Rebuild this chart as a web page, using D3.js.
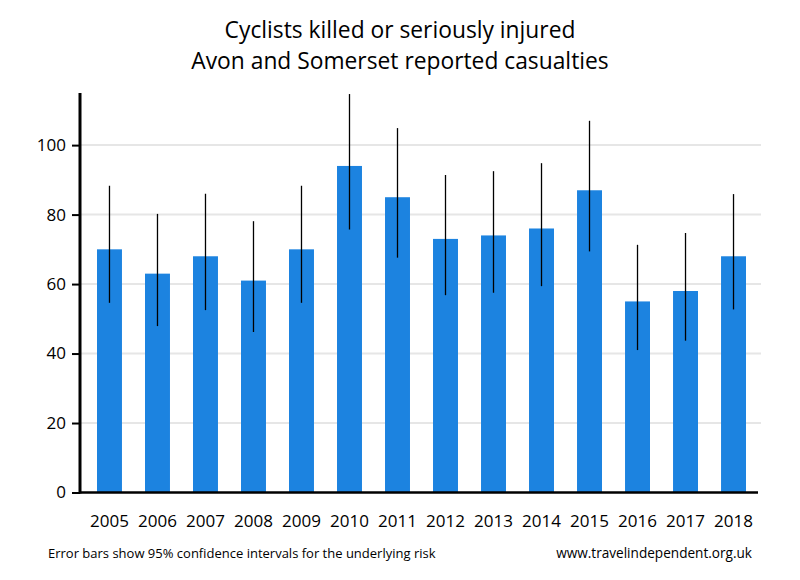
<!DOCTYPE html>
<html><head><meta charset="utf-8">
<script src="https://cdn.jsdelivr.net/npm/d3@7"></script>
<style>body{margin:0;background:#fff}svg{display:block}text{font-family:"Open Sans",sans-serif}</style>
</head><body><svg id="c" width="800" height="580"></svg>
<script>
const years = ["2005","2006","2007","2008","2009","2010","2011","2012","2013","2014","2015","2016","2017","2018"];
const casualties = [70,63,68,61,70,94,85,73,74,76,87,55,58,68];
const ciLow = [54.6,47.9,52.5,46.2,54.6,75.7,67.6,56.8,57.5,59.4,69.4,41.0,43.7,52.7];
const ciHigh = [88.3,80.2,86.0,78.1,88.3,114.7,104.9,91.4,92.5,94.8,107,71.3,74.7,85.9];
const yTicks = [0,20,40,60,80,100];
const titleLines = ["Cyclists killed or seriously injured","Avon and Somerset reported casualties"];

const svg = d3.select("#c");
const pL = 80, pR = 758, pT = 93, pB = 492.5;
const x = d3.scaleBand().domain(years).range([73, 770]).paddingInner(0.48).paddingOuter(0.5);
const y = d3.scaleLinear().domain([0,115]).range([pB, pT]);

// gridlines
svg.append("g").selectAll("line").data(yTicks.filter(d=>d>0)).join("line")
  .attr("x1", pL).attr("x2", 761).attr("y1", d=>y(d)).attr("y2", d=>y(d))
  .attr("stroke", "#e6e6e6").attr("stroke-width", 2);

// bars
svg.append("g").selectAll("rect").data(years).join("rect")
  .attr("x", d=>x(d)).attr("width", x.bandwidth())
  .attr("y", (d,i)=>y(casualties[i])).attr("height", (d,i)=>pB - y(casualties[i]))
  .attr("fill", "#1c83e0");

// error bars
svg.append("g").selectAll("line").data(years).join("line")
  .attr("x1", d=>x(d)+x.bandwidth()/2).attr("x2", d=>x(d)+x.bandwidth()/2)
  .attr("y1", (d,i)=>y(ciLow[i])).attr("y2", (d,i)=>y(ciHigh[i]))
  .attr("stroke", "#000").attr("stroke-width", 1.3);

// y axis
const ya = svg.append("g").attr("transform", `translate(${pL},0)`)
  .call(d3.axisLeft(y).tickValues(yTicks).tickSize(8).tickPadding(6).tickSizeOuter(0));
ya.select(".domain").remove();
ya.selectAll(".tick line").attr("stroke", "#000").attr("stroke-width", 2);
ya.selectAll(".tick text").attr("font-size", 17).attr("fill", "#000").attr("font-family", "Open Sans, sans-serif");
svg.append("line").attr("x1", pL).attr("x2", pL).attr("y1", pT).attr("y2", pB+1)
  .attr("stroke", "#000").attr("stroke-width", 3);

// x axis
const xa = svg.append("g").attr("transform", `translate(0,${pB})`)
  .call(d3.axisBottom(x).tickSize(0).tickPadding(22));
xa.select(".domain").remove();
xa.selectAll(".tick text").attr("font-size", 17).attr("fill", "#000").attr("font-family", "Open Sans, sans-serif");
svg.append("line").attr("x1", pL-1).attr("x2", pR).attr("y1", pB).attr("y2", pB)
  .attr("stroke", "#000").attr("stroke-width", 2.5);

// title
svg.append("g").selectAll("text").data(titleLines).join("text")
  .attr("x", 400).attr("y", (d,i)=>38 + i*31).attr("text-anchor", "middle")
  .attr("font-size", 22.8).attr("fill", "#000").text(d=>d);

// footnotes
svg.append("text").attr("x", 48).attr("y", 558).attr("font-size", 13).attr("fill", "#000")
  .text("Error bars show 95% confidence intervals for the underlying risk");
svg.append("text").attr("x", 752).attr("y", 558).attr("text-anchor", "end").attr("font-size", 13.6).attr("fill", "#000")
  .text("www.travelindependent.org.uk");
</script></body></html>
